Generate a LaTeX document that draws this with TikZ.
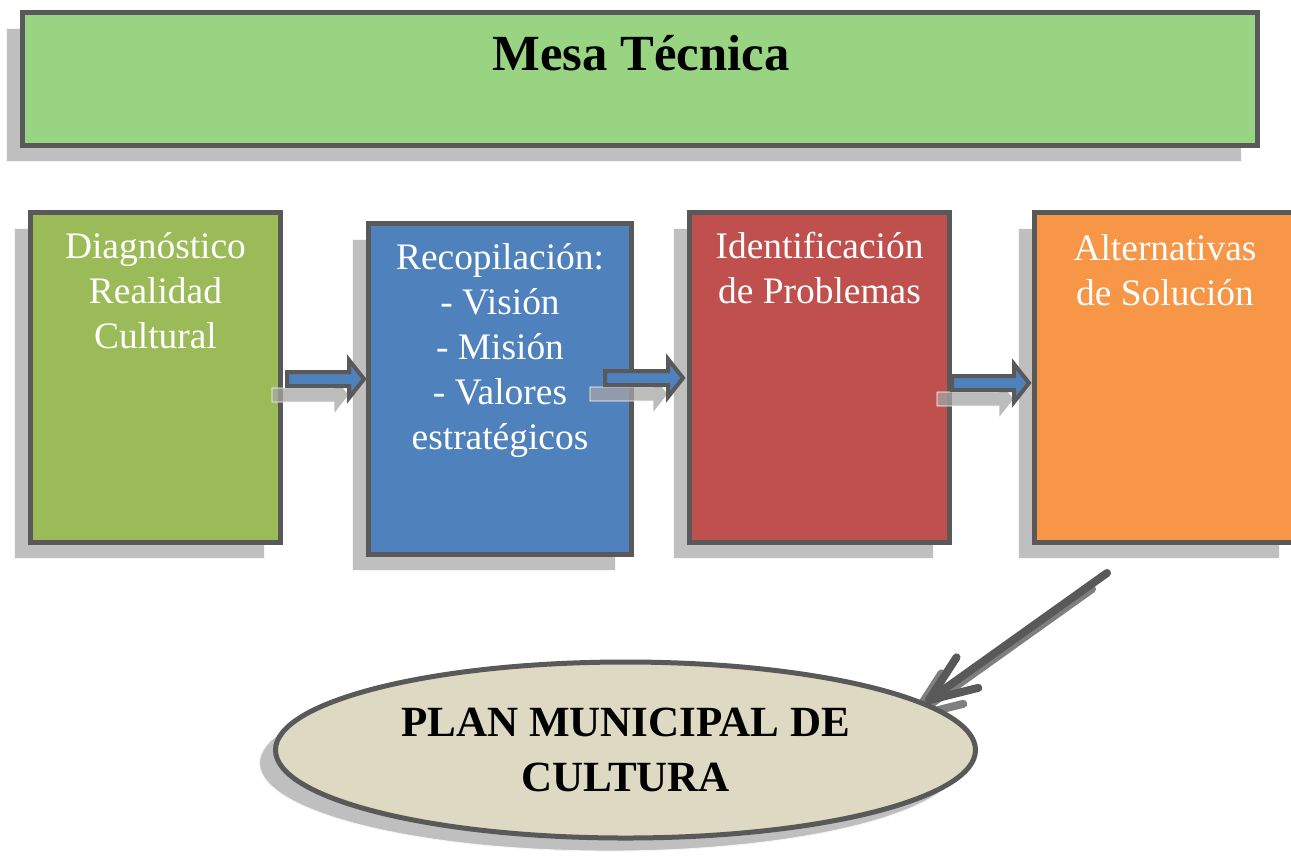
\documentclass[tikz,border=0pt]{standalone}
\usepackage{fontspec}
\setmainfont{Liberation Serif}
\usetikzlibrary{calc,shapes.geometric,shadows,arrows.meta,backgrounds}
\definecolor{marco}{HTML}{595959}
\definecolor{sombra}{HTML}{BFBFBF}
\definecolor{gris}{HTML}{7F7F7F}
\definecolor{verdemesa}{HTML}{98D482}
\definecolor{verde}{HTML}{9BBB59}
\definecolor{azul}{HTML}{4F81BD}
\definecolor{rojo}{HTML}{C0504D}
\definecolor{naranja}{HTML}{F79646}
\definecolor{crema}{HTML}{DDD9C3}
\begin{document}
\begin{tikzpicture}[x=0.2mm, y=-0.2mm, line join=miter,
	caja/.style={draw=marco, line width=1mm, inner sep=0pt,
		general shadow={fill=sombra, draw=white!85!sombra, line width=.5pt, shadow xshift=-3.2mm, shadow yshift=-3.2mm}},
	texto/.style={text=white, align=center, anchor=north, inner sep=0pt, font=\fontsize{21.3}{25.6}\selectfont},
	flecha/.style={fill=azul, draw=marco, line width=.8mm},
	sombraflecha/.style={fill=black!35, fill opacity=.75, draw=white, line width=.4pt, transform canvas={xshift=-3mm, yshift=-3.2mm}},
	diagonal/.style={draw=marco, line width=1.6mm, line cap=round, -{Straight Barb[length=9.5mm, width=7.5mm, round]}}]
	\useasboundingbox (0,0) rectangle (1291,858);
	% Flecha de bloque: estilo, inicio, punta
	\def\flecha#1#2#3{\draw[#1] ($(#2)+(0,-7)$) -- ($(#3)+(-15,-7)$) -- ($(#3)+(-15,-19)$) -- (#3) -- ($(#3)+(-15,19)$) -- ($(#3)+(-15,7)$) -- ($(#2)+(0,7)$) -- cycle;}
	% Mesa tecnica
	\node[caja, fill=verdemesa, minimum width=247mm, minimum height=26.6mm] (mesa) at (640,79) {};
	\node[font=\bfseries\fontsize{28.8}{34}\selectfont, anchor=base] (mesatxt) at (641,70) {Mesa Técnica};
	% Cajas
	\node[caja, fill=verde, minimum width=50mm, minimum height=66mm] (diag) at (155.5,377.5) {};
	\node[caja, fill=azul, minimum width=52.6mm, minimum height=66.2mm] (reco) at (500,389) {};
	\node[caja, fill=rojo, minimum width=52mm, minimum height=66mm] (iden) at (819.5,377.5) {};
	\node[caja, fill=naranja, minimum width=52.2mm, minimum height=66mm] (alte) at (1165,377.5) {};
	\node[texto] (diagtxt) at ($(diag.north)+(0,22)$) {Diagnóstico\\Realidad\\Cultural};
	\node[texto] (recotxt) at ($(reco.north)+(0,22)$) {Recopilación:\\- Visión\\- Misión\\- Valores\\estratégicos};
	\node[texto] (identxt) at ($(iden.north)+(0,22)$) {Identificación\\de Problemas};
	\node[texto] (altetxt) at ($(alte.north)+(0,24)$) {Alternativas\\de Solución};
	% Flechas entre cajas
	\coordinate (r1) at (0,379);
	\coordinate (r2) at (0,378);
	\coordinate (r3) at (0,383);
	\coordinate (s1) at ($(diag.east |- r1)+(4,0)$);
	\coordinate (t1) at ($(reco.west |- r1)+(-2,0)$);
	\coordinate (s2) at ($(reco.east |- r2)+(-29,0)$);
	\coordinate (t2) at ($(iden.west |- r2)+(-4,0)$);
	\coordinate (s3) at ($(iden.east |- r3)+(0,0)$);
	\coordinate (t3) at ($(alte.west |- r3)+(-3,0)$);
	\flecha{sombraflecha}{s1}{t1}
	\flecha{sombraflecha}{s2}{t2}
	\flecha{sombraflecha}{s3}{t3}
	\flecha{flecha}{s1}{t1}
	\flecha{flecha}{s2}{t2}
	\flecha{flecha}{s3}{t3}
	% Plan municipal
	\node[ellipse, draw=marco, line width=1mm, fill=crema, minimum width=140mm, minimum height=35.2mm, align=center,
		general shadow={fill=sombra, draw=white!85!sombra, line width=.5pt, shadow xshift=-3.2mm, shadow yshift=-2.6mm},
		font=\bfseries\fontsize{24.5}{31.3}\selectfont] (plan) at (625.5,750) {PLAN MUNICIPAL DE\\CULTURA};
	\coordinate (d0) at (1107,573);
	\begin{scope}[on background layer]
		\draw[diagonal, draw=gris, transform canvas={xshift=-3mm, yshift=-3.2mm}] (d0) -- (plan.9);
	\end{scope}
	\draw[diagonal] (d0) -- (plan.9);
\end{tikzpicture}
\end{document}
